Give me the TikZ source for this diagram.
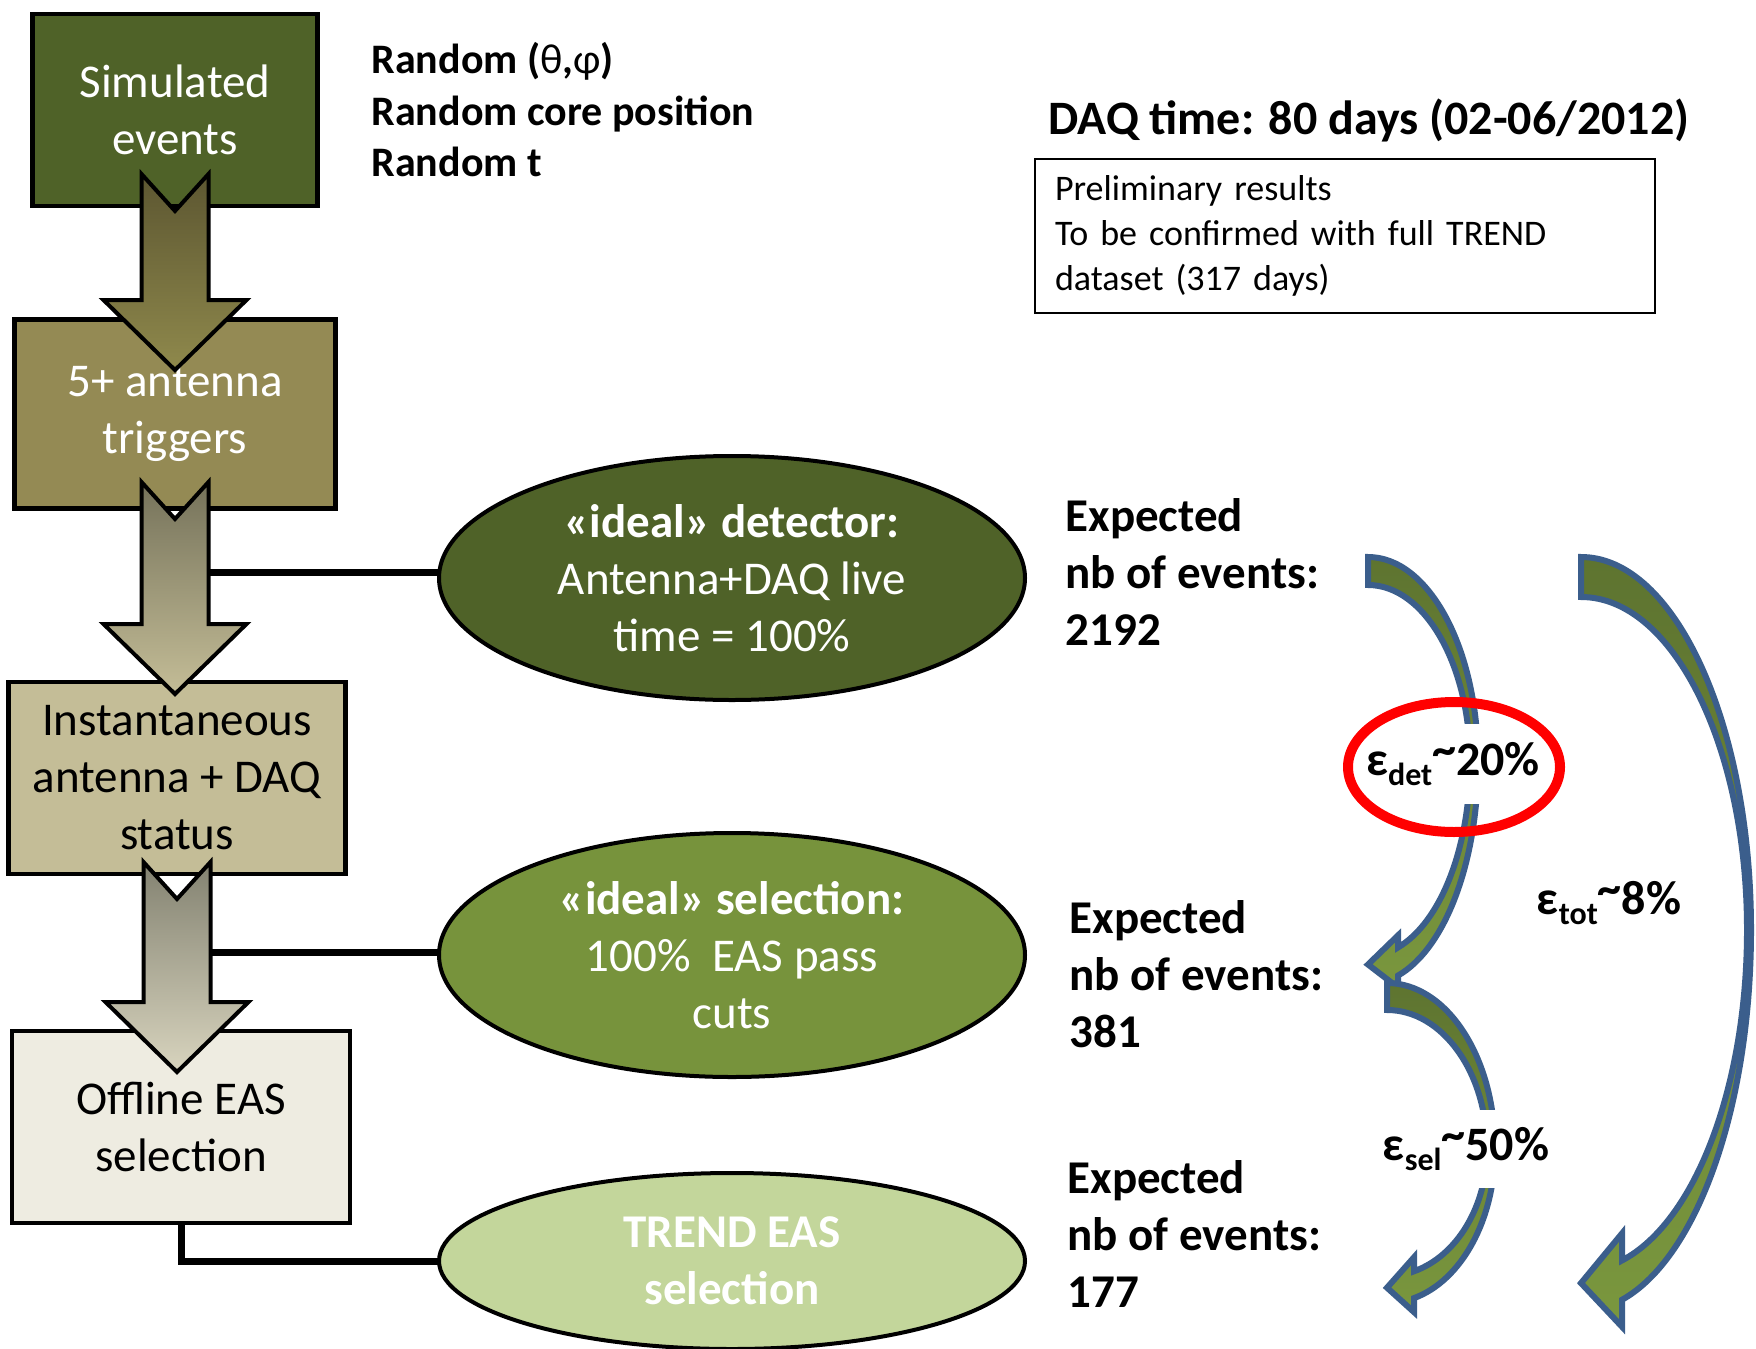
\documentclass[tikz,border=0pt]{standalone}
\usepackage{fontspec}
\setmainfont{Carlito}
\usetikzlibrary{shapes.geometric,calc}
\definecolor{boxA}{HTML}{4F6228}
\definecolor{boxB}{HTML}{948A54}
\definecolor{boxC}{HTML}{C4BD97}
\definecolor{boxD}{HTML}{EEECE1}
\definecolor{ellB}{HTML}{77933C}
\definecolor{ellC}{HTML}{C3D69B}
\definecolor{arrBlue}{HTML}{3B5E8C}
\definecolor{arrTop}{HTML}{5E7430}
\definecolor{arrBot}{HTML}{7A973E}
\definecolor{dAtop}{HTML}{5C5631}
\definecolor{dAbot}{HTML}{8F894C}
\definecolor{dBtop}{HTML}{75725A}
\definecolor{dBbot}{HTML}{C4BD97}
\definecolor{dCtop}{HTML}{838271}
\definecolor{dCbot}{HTML}{D8D4BE}

\newcommand\bigtext{\fontsize{47}{57}\selectfont}
\newcommand\epssub[1]{\raisebox{-0.2em}{\fontsize{32}{32}\selectfont #1}}
\newcommand\tldr{\raisebox{0.22em}{\textasciitilde}}

\tikzset{
  box/.style={draw=black, line width=4.5pt, rectangle, outer sep=0pt, inner sep=0pt, align=center, font=\bigtext},
  ell/.style={draw=black, line width=4pt, ellipse, outer sep=0pt, inner sep=0pt, minimum width=586pt, minimum height=244pt, align=center, font=\bigtext, text=white},
  blockarrow/.style={draw=black, line width=4pt, line join=miter},
  conn/.style={draw=black, line width=7pt},
  curvarr/.style={draw=arrBlue, line width=6pt, line join=miter, top color=arrTop, bottom color=arrBot},
  expect/.style={anchor=west, align=left, font=\bigtext\bfseries},
  epslabel/.style={fill=white, inner sep=4pt, font=\fontsize{48}{48}\selectfont\bfseries},
}

% curved arrow: cx cy a b1 b2 t s xb w
\newcommand\curvarrow[9]{%
  \pgfmathsetmacro\cvto{acos((#8-#1)/#3)}%
  \pgfmathsetmacro\cvti{acos((#8-#1)/(#3-#7))}%
  \pgfmathsetmacro\cvyo{#2+#5*sin(\cvto)}%
  \pgfmathsetmacro\cvyi{#2+(#5-#6)*sin(\cvti)}%
  \pgfmathsetmacro\cvym{(\cvyo+\cvyi)/2+3}%
  \path[curvarr] (#1,#2-#4)
    arc[start angle=-90,end angle=0,x radius=#3,y radius=#4]
    arc[start angle=0,end angle=\cvto,x radius=#3,y radius=#5]
    -- (#8,\cvyo+#9) -- (#1,\cvym) -- (#8,\cvyi-#9) -- (#8,\cvyi)
    arc[start angle=\cvti,end angle=0,x radius=#3-#7,y radius=#5-#6]
    arc[start angle=0,end angle=-90,x radius=#3-#7,y radius=#4-#6]
    -- cycle;}

% block down arrow from node #1 to node #2
\newcommand\blockdown[6]{%
  \path[blockarrow, top color=#5, bottom color=#6]
   ($(#1.south)+(-33.5,-#3)$) -- ($(#1.south)+(0,37-#3)$) -- ($(#1.south)+(33.5,-#3)$)
   -- ($(#1.south |- #2.north)+(33.5,#4-70)$) -- ($(#1.south |- #2.north)+(71.5,#4-70)$)
   -- ($(#1.south |- #2.north)+(0,#4)$) -- ($(#1.south |- #2.north)+(-71.5,#4-70)$)
   -- ($(#1.south |- #2.north)+(-33.5,#4-70)$) -- cycle;}

\begin{document}
\begin{tikzpicture}[x=1pt,y=-1pt]
\fill[white] (0,0) rectangle (1756,1349);
\useasboundingbox (0,0) rectangle (1756,1349);

% boxes
\node[box, fill=boxA, text=white, minimum width=285pt, minimum height=192pt] (b1) at (175,110) {Simulated\\events};
\node[box, fill=boxB, text=white, minimum width=321pt, minimum height=189pt] (b2) at (175,414) {5+ antenna\\triggers};
\node[box, fill=boxC, minimum width=337pt, minimum height=192pt] (b3) at (177,778) {Instantaneous\\antenna + DAQ\\status};
\node[box, fill=boxD, minimum width=338pt, minimum height=192pt] (b4) at (181,1127) {Offline EAS\\selection};

% ellipses
\node[ell, fill=boxA] (e1) at (732,578) {\textbf{«ideal» detector:}\\Antenna+DAQ live\\time = 100\%};
\node[ell, fill=ellB] (e2) at (732,955) {\textbf{«ideal» selection:}\\100\%\ \ EAS pass\\cuts};
\node[ell, fill=ellC, minimum height=176pt, font=\bigtext\bfseries] (e3) at (732,1261) {TREND EAS\\selection};

% connectors
\coordinate (c1) at ($(b2.south)+(0,64)$);
\coordinate (c2) at ($(b3.south)+(0,78)$);
\draw[conn] (c1) -- (c1 -| e1.west);
\draw[conn] (c2) -- (c2 -| e2.west);
\draw[conn] (b4.south) |- (e3.west);

% block arrows
\blockdown{b1}{b2}{32}{50.5}{dAtop}{dAbot}
\blockdown{b2}{b3}{26.5}{12}{dBtop}{dBbot}
\blockdown{b3}{b4}{12}{41}{dCtop}{dCbot}

% texts
\node[anchor=west, align=left, font=\fontsize{42}{51.5}\selectfont\bfseries] (rnd) at (368,110) {Random ({\mdseries θ},{\mdseries φ})\\Random core position\\Random t};
\node[anchor=west, font=\fontsize{48}{58}\selectfont\bfseries] (daq) at (1045,120) {DAQ time: 80 days (02-06/2012)};
\node[draw=black, line width=2pt, anchor=north west, minimum width=620pt, minimum height=154pt, text width=580pt, align=left, inner sep=0pt, font=\fontsize{36}{45}\selectfont] (prelim) at (1034,158) {Preliminary results\\To be confirmed with full TREND\\dataset (317 days)};

\node[expect] (x1) at (1062,572) {Expected\\nb of events:\\2192};
\node[expect] (x2) at (1066,974) {Expected\\nb of events:\\381};
\node[expect] (x3) at (1064,1234) {Expected\\nb of events:\\177};

% curved arrows
\curvarrow{1368}{762}{110}{205}{222}{28}{8}{1398}{12}
\curvarrow{1387}{1149}{108}{166}{154}{27}{8}{1414}{14}
\curvarrow{1581}{930}{170}{373}{381}{40}{4}{1622}{27}

% efficiency labels
\node[epslabel, minimum height=80pt] (ldet) at (1453,764) {ε\epssub{det}\tldr 20\%};
\node[draw=red, line width=10pt, ellipse, minimum width=212pt, minimum height=130pt, inner sep=0pt] (ring) at (1454,767) {};
\node[epslabel, minimum height=78pt] (lsel) at (1466,1149) {ε\epssub{sel}\tldr 50\%};
\node[epslabel] (ltot) at (1609,903) {ε\epssub{tot}\tldr 8\%};
\end{tikzpicture}
\end{document}
